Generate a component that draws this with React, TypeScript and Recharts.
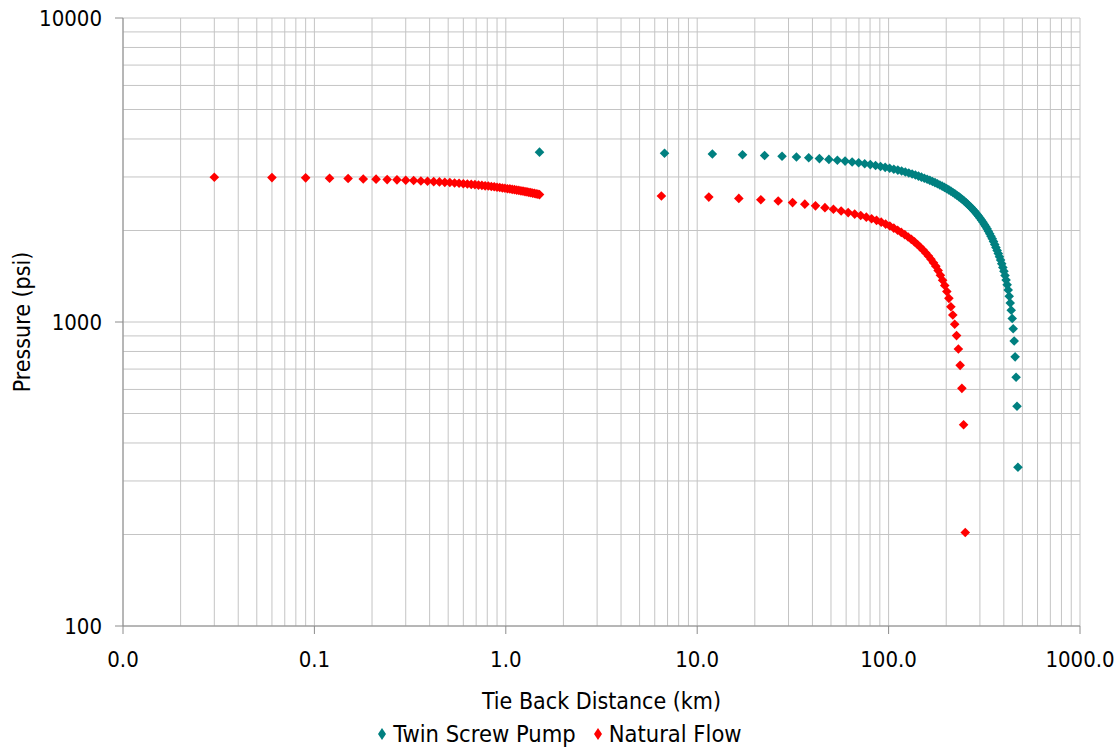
import { CartesianGrid, Label, Legend, Scatter, ScatterChart, XAxis, YAxis } from "recharts";

const FONT = "'DejaVu Sans Condensed', 'DejaVu Sans', sans-serif";
const PUMP_COLOR = "#008080";
const NATURAL_COLOR = "#ff0000";
const AXIS_COLOR = "#8c8c8c";
const GRID_COLOR = "#c4c4c4";

const xTicks = [0.01, 0.1, 1, 10, 100, 1000];
const yTicks = [100, 1000, 10000];
const xDecades = [0.01, 0.1, 1, 10, 100];
const yDecades = [100, 1000];

// Twin screw pump run (km, psi)
const pumpKm = [
  1.5, 6.75, 12, 17.25, 22.5, 27.75, 33, 38.25, 43.5, 48.75, 54, 59.25, 64.5, 69.75, 75, 80.25, 85.5, 90.75, 96,
  101.25, 106.5, 111.75, 117, 122.25, 127.5, 132.75, 138, 143.25, 148.5, 153.75, 159, 164.25, 169.5, 174.75, 180,
  185.25, 190.5, 195.75, 201, 206.25, 211.5, 216.75, 222, 227.25, 232.5, 237.75, 243, 248.25, 253.5, 258.75, 264,
  269.25, 274.5, 279.75, 285, 290.25, 295.5, 300.75, 306, 311.25, 316.5, 321.75, 327, 332.25, 337.5, 342.75, 348,
  353.25, 358.5, 363.75, 369, 374.25, 379.5, 384.75, 390, 395.25, 400.5, 405.75, 411, 416.25, 421.5, 426.75, 432,
  437.25, 442.5, 447.75, 453, 458.25, 463.5, 468.75, 474
];
const pumpPsi = [
  3620, 3590, 3570, 3551, 3530, 3510, 3489, 3468, 3447, 3426, 3404, 3383, 3361, 3339, 3317, 3294, 3272, 3249, 3227,
  3205, 3182, 3160, 3137, 3114, 3091, 3067, 3044, 3020, 2996, 2972, 2948, 2924, 2899, 2874, 2849, 2824, 2798, 2773,
  2746, 2720, 2694, 2667, 2640, 2613, 2585, 2557, 2529, 2500, 2471, 2442, 2413, 2383, 2352, 2322, 2291, 2259, 2227,
  2195, 2162, 2128, 2094, 2060, 2025, 1989, 1952, 1915, 1878, 1839, 1800, 1759, 1718, 1679, 1639, 1598, 1556, 1512,
  1468, 1422, 1374, 1325, 1274, 1215, 1155, 1093, 1027, 950, 866, 768, 658, 528, 333
];

// Natural flow, first leg
const naturalNearKm = [
  0.03, 0.06, 0.09, 0.12, 0.15, 0.18, 0.21, 0.24, 0.27, 0.3, 0.33, 0.36, 0.39, 0.42, 0.45, 0.48, 0.51, 0.54, 0.57,
  0.6, 0.63, 0.66, 0.69, 0.72, 0.75, 0.78, 0.81, 0.84, 0.87, 0.9, 0.93, 0.96, 0.99, 1.02, 1.05, 1.08, 1.11, 1.14,
  1.17, 1.2, 1.23, 1.26, 1.29, 1.32, 1.35, 1.38, 1.41, 1.44, 1.47, 1.5
];
const naturalNearPsi = [
  2995, 2985, 2980, 2970, 2965, 2955, 2950, 2940, 2935, 2925, 2920, 2910, 2905, 2895, 2890, 2880, 2875, 2865, 2860,
  2850, 2845, 2835, 2830, 2820, 2815, 2805, 2800, 2790, 2785, 2775, 2770, 2760, 2755, 2745, 2740, 2730, 2725, 2715,
  2710, 2700, 2695, 2685, 2680, 2670, 2665, 2655, 2650, 2640, 2635, 2625
];

// Natural flow, tie-back leg
const naturalFarKm = [
  6.5, 11.5, 16.5, 21.5, 26.5, 31.5, 36.5, 41.5, 46.5, 51.5, 56.5, 61.5, 66.5, 71.5, 76.5, 81.5, 86.5, 91.5, 96.5,
  101.5, 106.5, 111.5, 116.5, 121.5, 126.5, 131.5, 136.5, 141.5, 146.5, 151.5, 156.5, 161.5, 166.5, 171.5, 176.5,
  181.5, 186.5, 191.5, 196.5, 201.5, 206.5, 211.5, 216.5, 221.5, 226.5, 231.5, 236.5, 241.5, 246.5, 251.5
];
const naturalFarPsi = [
  2597, 2575, 2550, 2525, 2500, 2470, 2442, 2410, 2378, 2348, 2318, 2290, 2264, 2240, 2213, 2186, 2160, 2130, 2099,
  2068, 2036, 2004, 1971, 1938, 1904, 1870, 1835, 1799, 1762, 1725, 1687, 1648, 1608, 1567, 1525, 1476, 1425, 1372,
  1318, 1260, 1196, 1123, 1054, 983, 902, 815, 720, 605, 459, 203
];

const legendItems = [
  { name: "Twin Screw Pump", color: PUMP_COLOR },
  { name: "Natural Flow", color: NATURAL_COLOR }
];

const pumpData = pumpKm.map((km, i) => ({ km, psi: pumpPsi[i] }));
const naturalData = [
  ...naturalNearKm.map((km, i) => ({ km, psi: naturalNearPsi[i] })),
  ...naturalFarKm.map((km, i) => ({ km, psi: naturalFarPsi[i] }))
];

// 1..9 within each decade, plus the closing decade line
function gridValues(decades: number[], last: number): number[] {
  const out: number[] = [];
  for (const d of decades) {
    for (let m = 1; m <= 9; m++) {
      out.push(+(d * m).toPrecision(6));
    }
  }
  out.push(last);
  return out;
}

const xGrid = gridValues(xDecades, 1000);
const yGrid = gridValues(yDecades, 10000);

function DiamondDot(props: { cx?: number; cy?: number; fill?: string }) {
  const { cx, cy, fill } = props;
  if (typeof cx !== "number" || typeof cy !== "number") {
    return null;
  }
  const r = 4.8;
  return <path d={`M${cx},${cy - r}L${cx + r},${cy}L${cx},${cy + r}L${cx - r},${cy}Z`} fill={fill} />;
}

interface TickProps {
  x?: number;
  y?: number;
  payload?: { value: number };
}

function KmTick({ x, y, payload }: TickProps) {
  if (x == null || y == null || !payload) {
    return null;
  }
  return (
    <text x={x} y={y} dy="0.71em" textAnchor="middle" fontFamily={FONT} fontSize={22} fill="#000">
      {payload.value.toFixed(1)}
    </text>
  );
}

function PsiTick({ x, y, payload }: TickProps) {
  if (x == null || y == null || !payload) {
    return null;
  }
  return (
    <text x={x} y={y} dy="0.36em" textAnchor="end" fontFamily={FONT} fontSize={22} fill="#000">
      {payload.value}
    </text>
  );
}

function SeriesLegend() {
  return (
    <div
      style={{
        display: "flex",
        justifyContent: "center",
        alignItems: "center",
        fontFamily: FONT,
        fontSize: 23.5,
        color: "#000",
        lineHeight: "26px"
      }}
    >
      {legendItems.map((item, i) => (
        <span
          key={item.name}
          style={{ display: "inline-flex", alignItems: "center", marginRight: i < legendItems.length - 1 ? 18 : 0 }}
        >
          <svg width={8} height={12} style={{ marginRight: 7 }}>
            <path d="M4,0L8,6L4,12L0,6Z" fill={item.color} />
          </svg>
          <span>{item.name}</span>
        </span>
      ))}
    </div>
  );
}

function YTitle(props: { viewBox?: { x: number; y: number; width: number; height: number } }) {
  const vb = props.viewBox;
  if (!vb) {
    return null;
  }
  const cx = 22;
  const cy = vb.y + vb.height / 2;
  return (
    <text
      x={cx}
      y={cy}
      transform={`rotate(-90 ${cx} ${cy})`}
      textAnchor="middle"
      dominantBaseline="central"
      fontFamily={FONT}
      fontSize={23}
      fill="#000"
    >
      Pressure (psi)
    </text>
  );
}

function XTitle(props: { viewBox?: { x: number; y: number; width: number; height: number } }) {
  const vb = props.viewBox;
  if (!vb) {
    return null;
  }
  return (
    <text
      x={vb.x + vb.width / 2}
      y={701}
      textAnchor="middle"
      dominantBaseline="central"
      fontFamily={FONT}
      fontSize={23}
      fill="#000"
    >
      Tie Back Distance (km)
    </text>
  );
}

export default function App() {
  return (
    <div style={{ position: "absolute", left: 0, top: 0, width: 1120, height: 749, background: "#fff" }}>
      <ScatterChart width={1120} height={749} margin={{ top: 18, right: 40, bottom: 28, left: 0 }}>
        <CartesianGrid
          stroke={GRID_COLOR}
          verticalValues={xGrid}
          horizontalValues={yGrid}
          strokeWidth={1}
        />
        <XAxis
          type="number"
          dataKey="km"
          scale="log"
          domain={[0.01, 1000]}
          allowDataOverflow
          ticks={xTicks}
          stroke={AXIS_COLOR}
          tickSize={8}
          tickMargin={17}
          height={95}
          tick={<KmTick />}
          interval={0}
        >
          <Label content={<XTitle />} />
        </XAxis>
        <YAxis
          type="number"
          dataKey="psi"
          scale="log"
          domain={[100, 10000]}
          allowDataOverflow
          ticks={yTicks}
          stroke={AXIS_COLOR}
          tickSize={8}
          tickMargin={13}
          width={123}
          tick={<PsiTick />}
          interval={0}
        >
          <Label content={<YTitle />} />
        </YAxis>
        <Legend
          layout="horizontal"
          verticalAlign="middle"
          align="center"
          content={<SeriesLegend />}
          wrapperStyle={{ top: 721, left: 0, width: 1120 }}
        />
        <Scatter
          name="Twin Screw Pump"
          data={pumpData}
          fill={PUMP_COLOR}
          shape={<DiamondDot />}
          isAnimationActive={false}
        />
        <Scatter
          name="Natural Flow"
          data={naturalData}
          fill={NATURAL_COLOR}
          shape={<DiamondDot />}
          isAnimationActive={false}
        />
      </ScatterChart>
    </div>
  );
}
